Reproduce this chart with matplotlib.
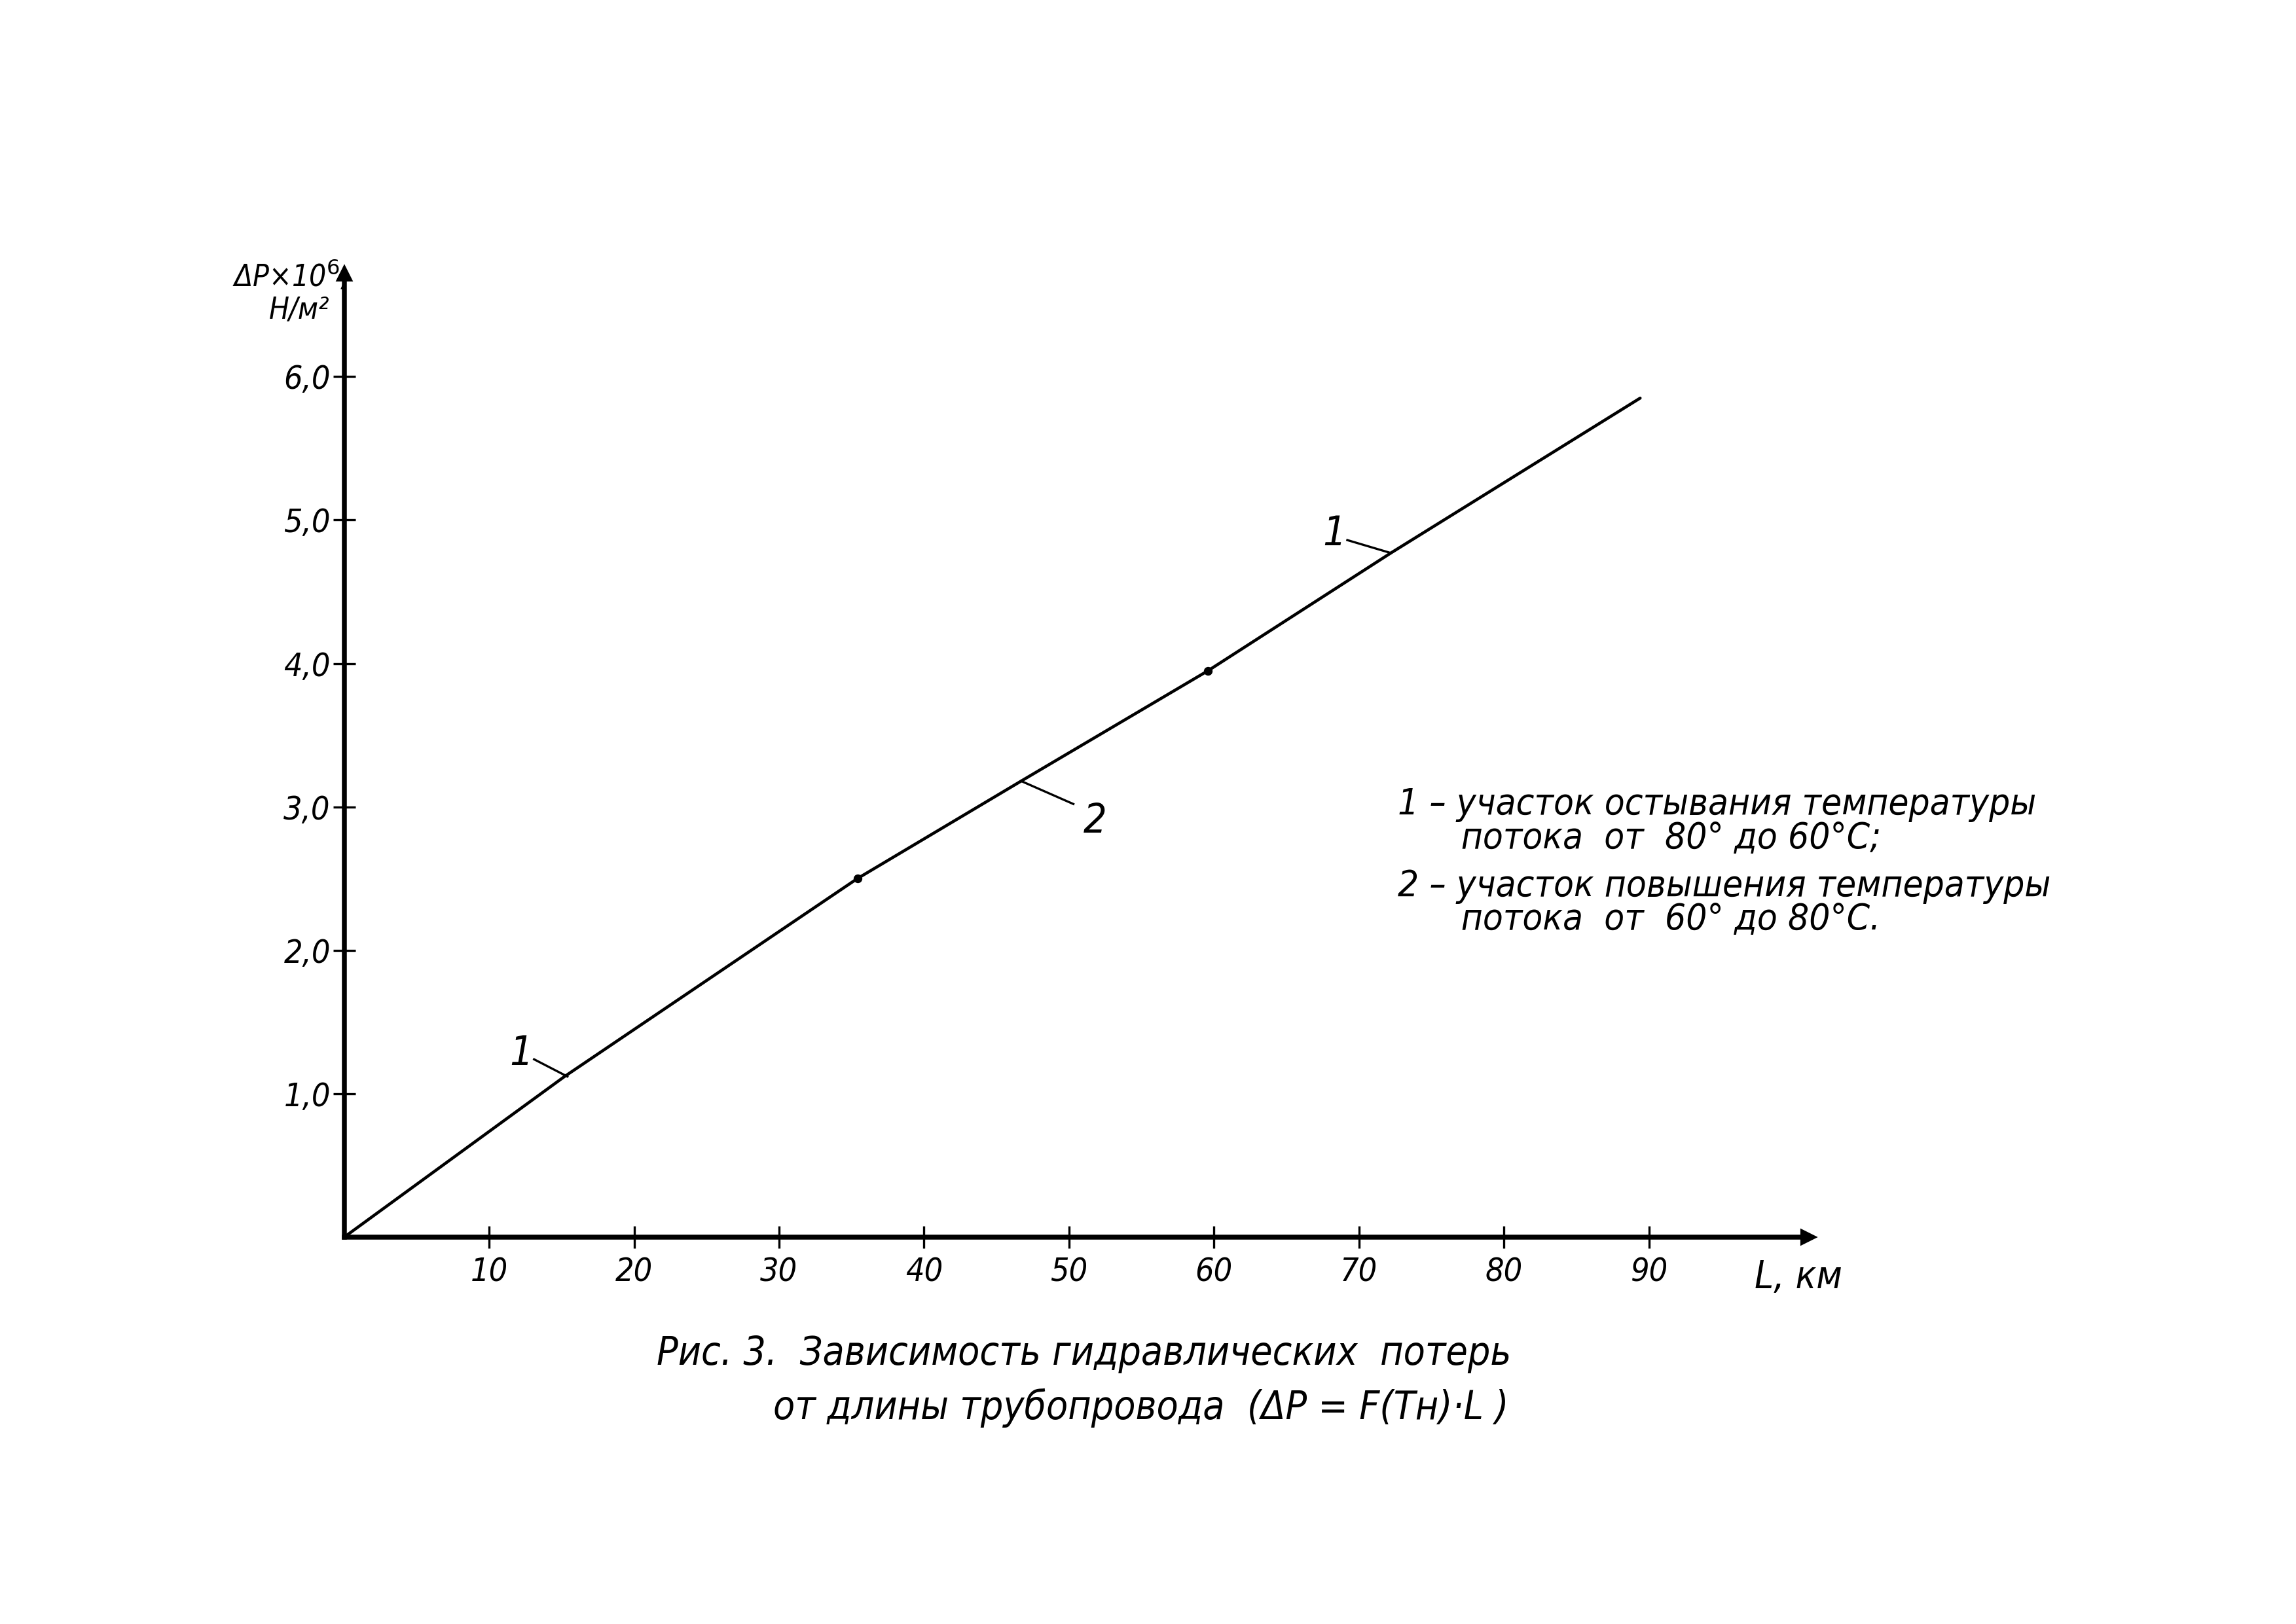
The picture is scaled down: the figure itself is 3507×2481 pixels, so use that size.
import matplotlib
matplotlib.use("Agg")
import matplotlib.pyplot as plt

# ── data ─────────────────────────────────────────────────────────────────────
L_km = [0, 15.2, 35.4, 46.7, 59.6, 72.2, 89.4]
dP = [0, 1.12, 2.50, 3.18, 3.95, 4.77, 5.85]

x_ticks = [10, 20, 30, 40, 50, 60, 70, 80, 90]
y_ticks = [1, 2, 3, 4, 5, 6]
y_tick_labels = ["1,0", "2,0", "3,0", "4,0", "5,0", "6,0"]

# curve labels: (text, label x, label y, pointer x, pointer y)
curve_labels = [
    ("1", 12.2, 1.28, 15.4, 1.12),
    ("2", 51.8, 2.90, 46.7, 3.18),
    ("1", 68.3, 4.90, 72.2, 4.77),
]

legend_1 = "1 – участок остывания температуры\n      потока  от  80° до 60°С;"
legend_2 = "2 – участок повышения температуры\n      потока  от  60° до 80°С."

plt.rcParams["font.family"] = ["DejaVu Sans"]
FONT = dict(style="italic", fontstretch="condensed")

fig = plt.figure(figsize=(11.69, 8.27), dpi=300)
ax = fig.add_axes([0.1499, 0.2382, 0.6377, 0.5935])
ax.set_xlim(0, 101)
ax.set_ylim(0, 6.72)

ax.plot(L_km, dP, color="black", lw=1.1, solid_capstyle="round",
        marker="o", ms=2.2, markevery=[2, 4])

# axes drawn as arrows
for s in ("top", "right"):
    ax.spines[s].set_visible(False)
ax.spines["left"].set_linewidth(1.8)
ax.spines["bottom"].set_linewidth(1.8)
ax.plot(1, 0, ">k", transform=ax.transAxes, clip_on=False, ms=5)
ax.plot(0, 1, "^k", transform=ax.transAxes, clip_on=False, ms=5)

ax.set_xticks(x_ticks)
ax.set_xticklabels([str(v) for v in x_ticks], fontsize=12, **FONT)
ax.set_yticks(y_ticks)
ax.set_yticklabels(y_tick_labels, fontsize=12, **FONT)
ax.tick_params(axis="x", direction="inout", length=8, width=0.8, pad=3)
ax.tick_params(axis="y", direction="inout", length=8, width=0.8, pad=1)

# axis captions
ax.text(0.2, 6.70, "ΔP×10$^6$,", ha="right", va="center", fontsize=11, **FONT,
        clip_on=False)
ax.text(-1.0, 6.46, "Н/м²", ha="right", va="center", fontsize=11, **FONT,
        clip_on=False)
ax.text(100.3, -0.28, "L, км", ha="center", va="center", fontsize=14, **FONT,
        clip_on=False)

# curve numbering with leader lines
for txt, tx, ty, px, py in curve_labels:
    ax.text(tx, ty, txt, ha="center", va="center", fontsize=15, **FONT)
    if tx < px:
        ax.plot([tx + 0.9, px], [ty - 0.04, py], color="black", lw=0.8)
    else:
        ax.plot([tx - 1.5, px], [ty + 0.12, py], color="black", lw=0.8)

# explanation block
ax.text(72.7, 2.90, legend_1, ha="left", va="center", fontsize=13.5,
        linespacing=0.95, **FONT)
ax.text(72.7, 2.33, legend_2, ha="left", va="center", fontsize=13.5,
        linespacing=0.95, **FONT)

# figure caption
fig.text(0.472, 0.166, "Рис. 3.  Зависимость гидравлических  потерь",
         ha="center", va="center", fontsize=14.5, **FONT)
fig.text(0.497, 0.133, "от длины трубопровода  (ΔP = F(Tн)·L )",
         ha="center", va="center", fontsize=14.5, **FONT)

fig.savefig("out.png", dpi=300)
